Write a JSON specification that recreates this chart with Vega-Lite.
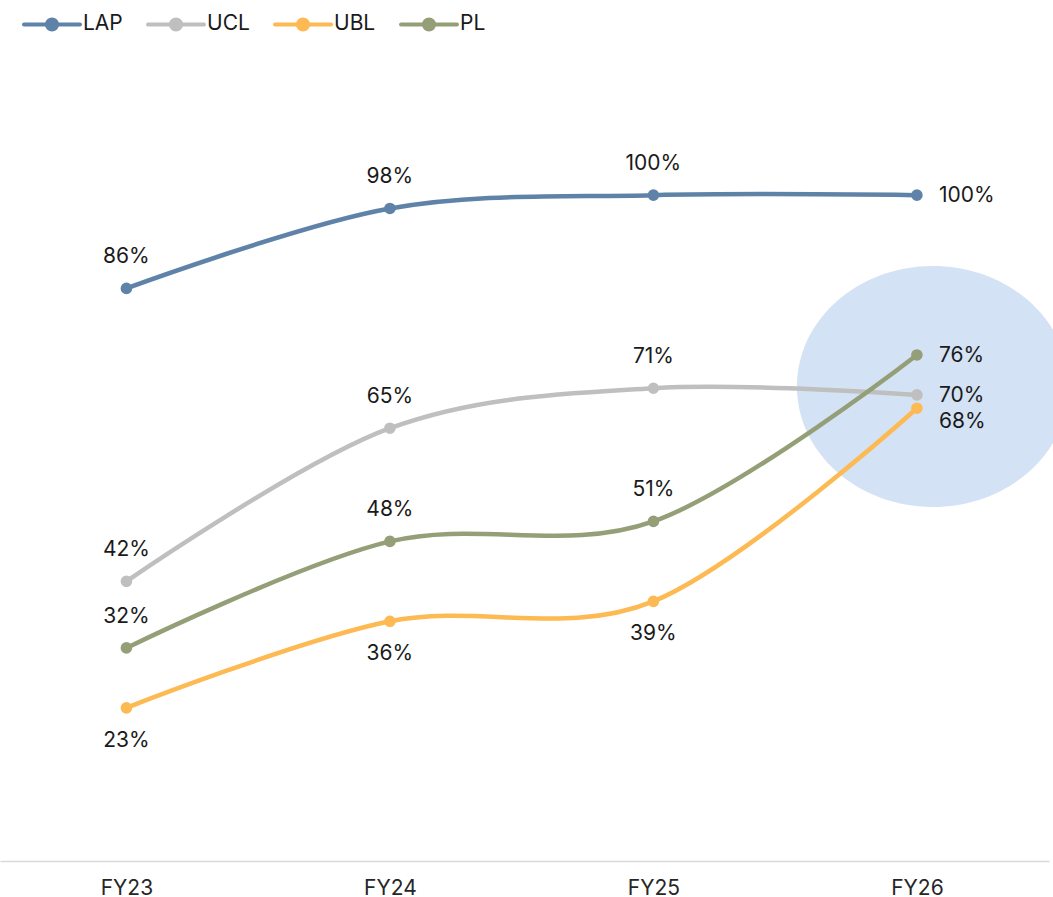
{
  "$schema": "https://vega.github.io/schema/vega-lite/v6.json",
  "autosize": {"type": "none"},
  "width": 1049,
  "height": 799,
  "padding": {"left": 0, "top": 62, "right": 4, "bottom": 36},
  "background": "white",
  "config": {
    "view": {"stroke": null},
    "font": "Inter",
    "text": {"font": "Inter"}
  },
  "data": {
    "values": [
      {"year": "FY23", "series": "LAP", "value": 0.86},
      {"year": "FY24", "series": "LAP", "value": 0.98},
      {"year": "FY25", "series": "LAP", "value": 1.0},
      {"year": "FY26", "series": "LAP", "value": 1.0},
      {"year": "FY23", "series": "UCL", "value": 0.42},
      {"year": "FY24", "series": "UCL", "value": 0.65},
      {"year": "FY25", "series": "UCL", "value": 0.71},
      {"year": "FY26", "series": "UCL", "value": 0.70},
      {"year": "FY23", "series": "UBL", "value": 0.23},
      {"year": "FY24", "series": "UBL", "value": 0.36},
      {"year": "FY25", "series": "UBL", "value": 0.39},
      {"year": "FY26", "series": "UBL", "value": 0.68},
      {"year": "FY23", "series": "PL", "value": 0.32},
      {"year": "FY24", "series": "PL", "value": 0.48},
      {"year": "FY25", "series": "PL", "value": 0.51},
      {"year": "FY26", "series": "PL", "value": 0.76}
    ]
  },
  "encoding": {
    "x": {
      "field": "year",
      "type": "ordinal",
      "sort": ["FY23", "FY24", "FY25", "FY26"],
      "scale": {"type": "point", "padding": 0.4905, "align": 0.489},
      "axis": {
        "title": null,
        "ticks": false,
        "grid": false,
        "domainColor": "#d9d9d9",
        "domainWidth": 1.5,
        "labelAngle": 0,
        "labelFont": "Inter",
        "labelFontSize": 21,
        "labelColor": "#262626",
        "labelPadding": 16
      }
    },
    "y": {
      "field": "value",
      "type": "quantitative",
      "scale": {"domain": [0, 1.2], "nice": false, "zero": false},
      "axis": null
    }
  },
  "layer": [
    {
      "transform": [{"filter": "datum.series === 'UCL' && datum.year === 'FY26'"}],
      "mark": {
        "type": "point",
        "shape": "M 1 0 C 1 0.4893 0.5523 0.886 0 0.886 C -0.5523 0.886 -1 0.4893 -1 0 C -1 -0.4893 -0.5523 -0.886 0 -0.886 C 0.5523 -0.886 1 -0.4893 1 0 Z",
        "size": 73984,
        "filled": true,
        "fill": "#d4e2f5",
        "stroke": null,
        "opacity": 1,
        "xOffset": 16,
        "yOffset": -8.5
      }
    },
    {
      "mark": {"type": "line", "interpolate": "cardinal", "strokeWidth": 4.5, "strokeCap": "round"},
      "encoding": {
        "color": {
          "field": "series",
          "type": "nominal",
          "scale": {
            "domain": ["LAP", "UCL", "UBL", "PL"],
            "range": ["#5f83a8", "#bfbfbf", "#fdb952", "#949f78"]
          },
          "legend": {
            "title": null,
            "orient": "none",
            "direction": "horizontal",
            "legendX": 22,
            "legendY": -68,
            "symbolType": "M -1 0 L 1 0 M 0.18 0 C 0.18 0.0994 0.0994 0.18 0 0.18 C -0.0994 0.18 -0.18 0.0994 -0.18 0 C -0.18 -0.0994 -0.0994 -0.18 0 -0.18 C 0.0994 -0.18 0.18 -0.0994 0.18 0 Z",
            "symbolSize": 3136,
            "symbolStrokeWidth": 4,
            "labelFont": "Inter",
            "labelFontSize": 21,
            "labelColor": "#1a1a1a",
            "labelOffset": 1,
            "columnPadding": 17,
            "encode": {
              "symbols": {
                "update": {
                  "fill": {"scale": "color", "field": "value"},
                  "stroke": {"scale": "color", "field": "value"},
                  "strokeCap": {"value": "round"}
                }
              }
            }
          }
        }
      }
    },
    {
      "mark": {"type": "point", "filled": true, "size": 135, "opacity": 1},
      "encoding": {
        "color": {"field": "series", "type": "nominal"}
      }
    },
    {
      "transform": [{"filter": "datum.series !== 'UBL' && datum.year !== 'FY26'"}],
      "mark": {"type": "text", "dy": -31, "fontSize": 21, "color": "#1a1a1a", "baseline": "middle", "align": "center"},
      "encoding": {"text": {"field": "value", "type": "quantitative", "format": ".0%"}}
    },
    {
      "transform": [{"filter": "datum.series === 'UBL' && datum.year !== 'FY26'"}],
      "mark": {"type": "text", "dy": 33, "fontSize": 21, "color": "#1a1a1a", "baseline": "middle", "align": "center"},
      "encoding": {"text": {"field": "value", "type": "quantitative", "format": ".0%"}}
    },
    {
      "transform": [{"filter": "datum.series !== 'UBL' && datum.year === 'FY26'"}],
      "mark": {"type": "text", "dx": 22, "dy": 1, "fontSize": 21, "color": "#1a1a1a", "baseline": "middle", "align": "left"},
      "encoding": {"text": {"field": "value", "type": "quantitative", "format": ".0%"}}
    },
    {
      "transform": [{"filter": "datum.series === 'UBL' && datum.year === 'FY26'"}],
      "mark": {"type": "text", "dx": 22, "dy": 14, "fontSize": 21, "color": "#1a1a1a", "baseline": "middle", "align": "left"},
      "encoding": {"text": {"field": "value", "type": "quantitative", "format": ".0%"}}
    }
  ]
}
